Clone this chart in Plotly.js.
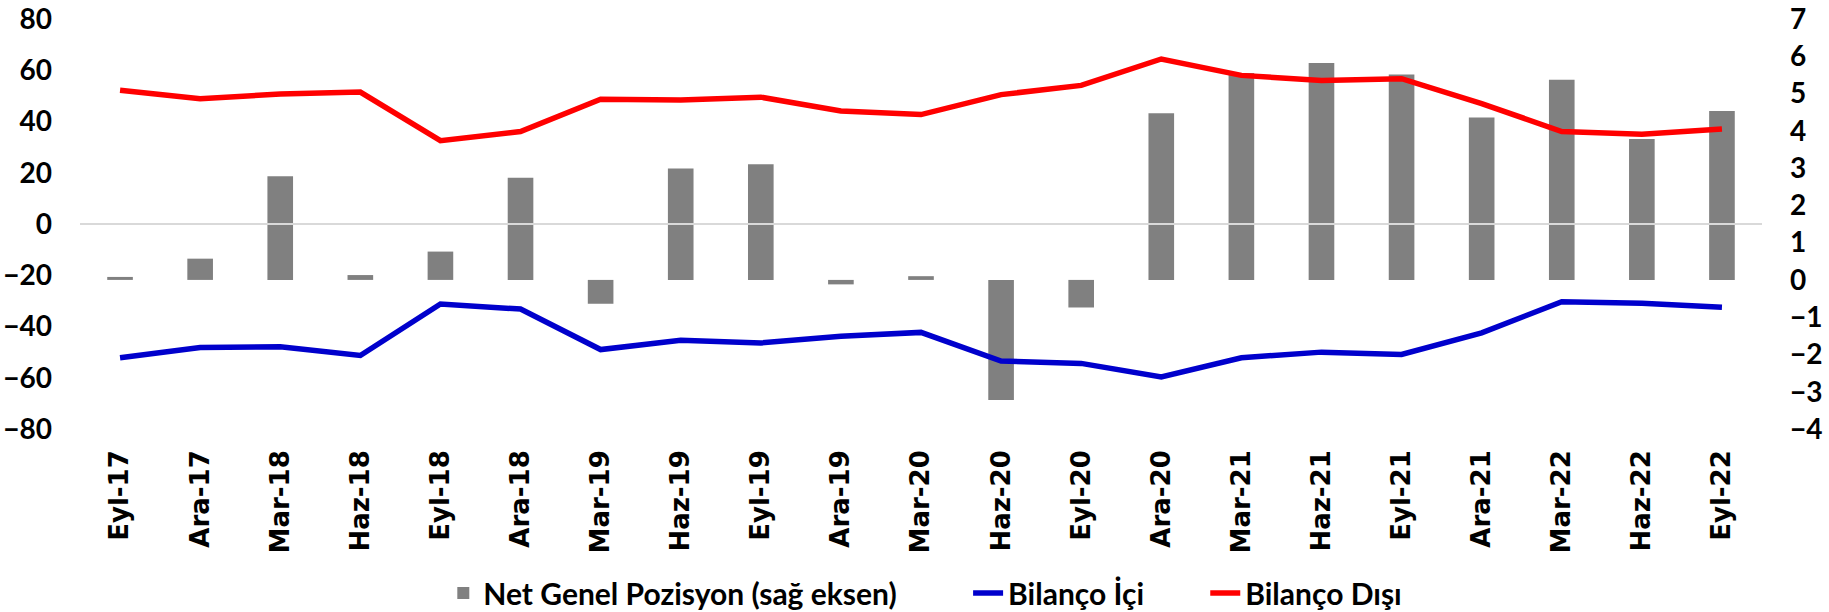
<!DOCTYPE html>
<html>
<head>
<meta charset="utf-8">
<script src="https://cdn.plot.ly/plotly-3.0.1.min.js"></script>
<style>
html,body{margin:0;padding:0;background:#fff;}
#chart{width:1829px;height:612px;}
</style>
</head>
<body>
<div id="chart"></div>
<script>
const categories = ['Eyl-17','Ara-17','Mar-18','Haz-18','Eyl-18','Ara-18','Mar-19','Haz-19','Eyl-19','Ara-19','Mar-20','Haz-20','Eyl-20','Ara-20','Mar-21','Haz-21','Eyl-21','Ara-21','Mar-22','Haz-22','Eyl-22'];
const netGenelPozisyon = [0.08,0.57,2.78,0.13,0.76,2.74,-0.64,2.99,3.10,-0.12,0.10,-3.22,-0.74,4.47,5.55,5.82,5.51,4.36,5.37,3.78,4.53];
const bilancoIci = [-52.2,-48.2,-47.9,-51.3,-31.2,-33.2,-49.0,-45.4,-46.4,-43.8,-42.3,-53.5,-54.4,-59.7,-52.2,-50.0,-50.9,-42.5,-30.3,-30.9,-32.5];
const bilancoDisi = [52.2,48.9,50.7,51.5,32.5,36.1,48.7,48.4,49.5,44.1,42.7,50.5,54.1,64.4,58.0,56.0,56.7,47.0,36.1,35.0,37.1];
const leftTicks = [-80,-60,-40,-20,0,20,40,60,80];
const rightTicks = [-4,-3,-2,-1,0,1,2,3,4,5,6,7];

const traces = [
  {type:'bar', x:categories, y:netGenelPozisyon, name:'Net Genel Pozisyon (sağ eksen)',
   marker:{color:'#808080', line:{width:0}}, yaxis:'y', legend:'legend'},
  {type:'scatter', mode:'lines', x:categories, y:bilancoIci, name:'Bilanço İçi',
   line:{color:'#0000CC', width:5.5}, yaxis:'y2', legend:'legend2'},
  {type:'scatter', mode:'lines', x:categories, y:bilancoDisi, name:'Bilanço Dışı',
   line:{color:'#FF0000', width:5.5}, yaxis:'y2', legend:'legend3'}
];

const legendFont = {family:'Lato, sans-serif', size:30, color:'#000', weight:'bold'};
const legendBase = {orientation:'h', y:-0.4, yanchor:'middle', xanchor:'left',
  bgcolor:'rgba(0,0,0,0)', font:legendFont, itemwidth:30};
const tickFontY = {family:'Lato, sans-serif', size:28, color:'#000', weight:'bold'};

const layout = {
  width:1829, height:612,
  margin:{l:80, r:67, t:19, b:183, autoexpand:false},
  paper_bgcolor:'#fff', plot_bgcolor:'rgba(0,0,0,0)',
  bargap:0.68,
  showlegend:true,
  legend:Object.assign({}, legendBase, {x:0.216}),
  legend2:Object.assign({}, legendBase, {x:0.528}),
  legend3:Object.assign({}, legendBase, {x:0.669}),
  xaxis:{type:'category', showgrid:false, zeroline:false, showline:false, ticks:'',
    tickangle:-90, ticklabelstandoff:15,
    tickfont:{family:'DejaVu Sans, sans-serif', size:26, color:'#000', weight:'bold'},
    automargin:false, range:[-0.5, categories.length-0.5]},
  yaxis:{side:'right', range:[-4,7], tickvals:rightTicks, showgrid:false, zeroline:false,
    showline:false, ticks:'', ticklabelstandoff:27, ticklabeloverflow:'allow',
    tickfont:tickFontY, automargin:false},
  yaxis2:{side:'left', overlaying:'y', range:[-80,80], tickvals:leftTicks, showgrid:false,
    zeroline:false, showline:false, ticks:'',
    ticklabelstandoff:27, ticklabeloverflow:'allow',
    tickfont:tickFontY, automargin:false},
  shapes:[{type:'line', layer:'above', xref:'paper', x0:0, x1:1, yref:'y2', y0:0, y1:0,
    line:{color:'#D9D9D9', width:2}}]
};

Plotly.newPlot('chart', traces, layout, {staticPlot:true, displayModeBar:false});
</script>
</body>
</html>
